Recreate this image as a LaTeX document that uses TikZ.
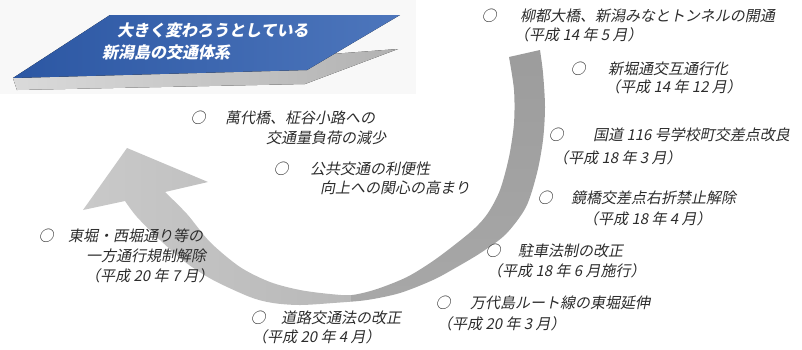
\documentclass[tikz,border=0pt]{standalone}
\usepackage{fontspec}
\newfontfamily\jp{Noto Sans CJK JP}
\definecolor{textgray}{HTML}{2C2C2C}
\definecolor{blueL}{HTML}{2C57A3}
\definecolor{blueR}{HTML}{4D76BC}
\definecolor{shadowL}{HTML}{DADADA}
\definecolor{shadowR}{HTML}{B2B2B2}
\definecolor{lightL}{HTML}{CACACA}
\definecolor{lightR}{HTML}{B8B8B8}
\definecolor{darkT}{HTML}{9C9C9C}
\definecolor{darkB}{HTML}{A8A8A8}
\definecolor{bgpale}{HTML}{F8F8F8}
\newcommand\slnode[4]{\begin{scope}[shift={(#3)}]\node[#1,xslant=0.2,transform shape] (#2) at (0,0) {#4};\end{scope}}
\begin{document}
\begin{tikzpicture}[x=1pt,y=-1pt,
  txt/.style={anchor=base west,inner sep=0pt,text=textgray,font=\jp\fontsize{15pt}{19pt}\selectfont},
  ttl/.style={anchor=base west,inner sep=0pt,text=white,font=\jp\bfseries\fontsize{16pt}{20pt}\selectfont}]
\useasboundingbox (0,0) rectangle (802,349);
% pale background of the title image
\fill[bgpale] (0,0) rectangle (416,94);
% title banner: shadow and blue parallelogram
\fill[left color=shadowL,right color=shadowR] (13,78) -- (398,49) -- (305,84) -- (17,90) -- cycle;
\fill[left color=blueL,right color=blueR] (110,15) -- (400,15) -- (307,70) -- (13,78) -- cycle;
\slnode{ttl}{t1}{117,36}{大きく変わろうとしている}
\slnode{ttl}{t2}{102,58}{新潟島の交通体系}
% big curved arrow
\begin{scope}
\clip (127,148) -- (208,182) -- (165,192)
  -- plot[smooth] coordinates {(165,192) (187,214) (210,242) (240,267) (270,282) (300,290) (330,294) (352,295) (377,289) (407,277) (433,261) (457,243) (475,228) (488,213) (500,190) (509,157) (514,123) (514,90) (509,57)}
  -- plot[smooth] coordinates {(540,50) (543,73) (545,107) (543,140) (537,173) (526,207) (506,234) (482,252) (457,267) (433,280) (400,293) (367,300) (333,303) (300,305) (273,303) (250,297) (213,280) (185,262) (160,240) (137,217) (125,201)}
  -- (83,210) -- cycle;
\shade[left color=lightL,right color=lightR] (70,130) rectangle (351,320);
\shade[top color=darkT,bottom color=darkB] (351,40) rectangle (560,320);
\end{scope}
% items on the right
\slnode{txt}{a1}{481.5,21}{○\hspace{23.5pt}柳都大橋、新潟みなとトンネルの開通}
\slnode{txt}{a2}{514,40}{（平成 14 年 5 月）}
\slnode{txt}{b1}{570.5,74}{○\hspace{22.5pt}新堀通交互通行化}
\slnode{txt}{b2}{605,92}{（平成 14 年 12 月）}
\slnode{txt}{c1}{548.5,140}{○\hspace{29.5pt}国道 116 号学校町交差点改良}
\slnode{txt}{c2}{553,163}{（平成 18 年 3 月）}
\slnode{txt}{d1}{537.5,203}{○\hspace{18.5pt}鏡橋交差点右折禁止解除}
\slnode{txt}{d2}{583,224}{（平成 18 年 4 月）}
\slnode{txt}{e1}{485.5,256}{○\hspace{17.5pt}駐車法制の改正}
\slnode{txt}{e2}{487,276}{（平成 18 年 6 月施行）}
\slnode{txt}{f1}{435.5,308}{○\hspace{19.5pt}万代島ルート線の東堀延伸}
\slnode{txt}{f2}{437,329}{（平成 20 年 3 月）}
% items at the bottom and left
\slnode{txt}{g1}{250.5,323}{○\hspace{15.5pt}道路交通法の改正}
\slnode{txt}{g2}{252,342}{（平成 20 年 4 月）}
\slnode{txt}{h1}{38.5,241}{○\hspace{14.5pt}東堀・西堀通り等の}
\slnode{txt}{h2}{86,261}{一方通行規制解除}
\slnode{txt}{h3}{85,281}{（平成 20 年 7 月）}
% items in the centre
\slnode{txt}{i1}{190.5,123}{○\hspace{19.5pt}萬代橋、柾谷小路への}
\slnode{txt}{i2}{266,143}{交通量負荷の減少}
\slnode{txt}{j1}{273.5,174}{○\hspace{21.5pt}公共交通の利便性}
\slnode{txt}{j2}{320,193}{向上への関心の高まり}
\end{tikzpicture}
\end{document}
